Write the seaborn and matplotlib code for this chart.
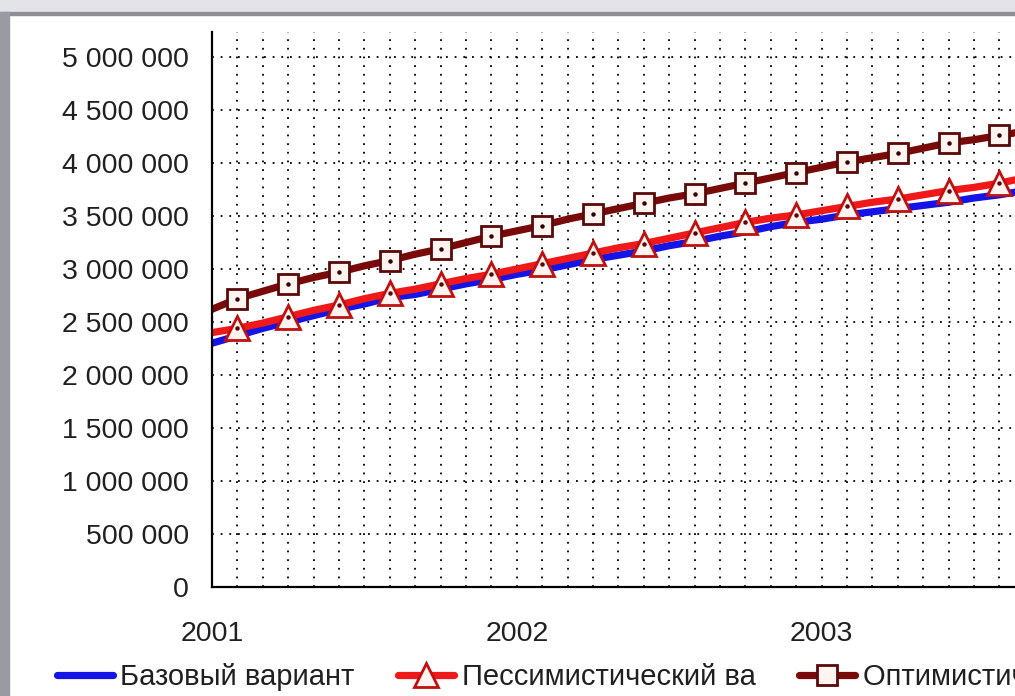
import seaborn as sns
import pandas as pd
import matplotlib.pyplot as plt
from matplotlib.ticker import FixedLocator, FuncFormatter, MultipleLocator
from matplotlib.patches import Rectangle

# monthly values, Jan 2001 onwards (millions)
months = list(range(33))
base = [2.30, 2.37, 2.44, 2.50, 2.56, 2.62, 2.67, 2.73, 2.76, 2.81, 2.86, 2.90,
        2.95, 2.99, 3.04, 3.09, 3.13, 3.17, 3.22, 3.26, 3.31, 3.35, 3.40, 3.44,
        3.47, 3.51, 3.54, 3.57, 3.60, 3.63, 3.67, 3.70, 3.74]
pessimistic = [2.40, 2.44, 2.49, 2.55, 2.61, 2.66, 2.72, 2.77, 2.81, 2.86, 2.91, 2.95,
               3.00, 3.05, 3.10, 3.15, 3.20, 3.24, 3.29, 3.34, 3.39, 3.44, 3.48, 3.51,
               3.55, 3.59, 3.63, 3.66, 3.70, 3.74, 3.77, 3.81, 3.86]
optimistic = [2.62, 2.72, 2.79, 2.86, 2.92, 2.97, 3.03, 3.08, 3.14, 3.19, 3.25, 3.31,
              3.36, 3.41, 3.47, 3.52, 3.57, 3.62, 3.67, 3.71, 3.76, 3.81, 3.86, 3.91,
              3.96, 4.01, 4.05, 4.09, 4.14, 4.19, 4.22, 4.26, 4.30]
year_ticks = [0, 12, 24, 36]
year_labels = ["2001", "2002", "2003", "2004"]
series_names = ["Базовый вариант", "Пессимистический ва", "Оптимистический вариант"]

df = pd.DataFrame({"month": months,
                   "base": [v * 1e6 for v in base],
                   "pess": [v * 1e6 for v in pessimistic],
                   "opt": [v * 1e6 for v in optimistic]})

sns.set_style("white")
plt.rcParams["font.family"] = ["Liberation Sans", "DejaVu Sans"]

W, H = 1015, 696
fig = plt.figure(figsize=(W / 100, H / 100), dpi=100)
ax = fig.add_axes([212 / W, 1 - 587 / H, (W - 212) / W, (587 - 32) / H])

# window frame bits from the screenshot
fig.patches.append(Rectangle((0, 1 - 12 / H), 1, 12 / H, transform=fig.transFigure,
                             color="#e4e4e8", zorder=0))
fig.patches.append(Rectangle((0, 1 - 15 / H), 1, 3 / H, transform=fig.transFigure,
                             color="#8e8e94", zorder=0))
fig.patches.append(Rectangle((0, 0), 9 / W, 1 - 12 / H, transform=fig.transFigure,
                             color="#9a9aa2", zorder=0))

lw = 5.2
sns.lineplot(data=df, x="month", y="base", ax=ax, color="#1414e6", lw=lw,
             label=series_names[0], zorder=3)
sns.lineplot(data=df, x="month", y="pess", ax=ax, color="#f01818", lw=lw,
             marker="^", markevery=(1, 2), ms=17, mfc="#fff4f0", mec="#c01010",
             mew=2, label=series_names[1], zorder=4)
sns.lineplot(data=df, x="month", y="opt", ax=ax, color="#7a0a0a", lw=lw,
             marker="s", markevery=(1, 2), ms=14, mfc="#fff4f0", mec="#5a0808",
             mew=2, label=series_names[2], zorder=5)
# centre dots inside the markers
ax.plot(df["month"], df["pess"], ls="none", marker="o", ms=2.2, color="#600000",
        markevery=(1, 2), zorder=6)
ax.plot(df["month"], df["opt"], ls="none", marker="o", ms=2.2, color="#300000",
        markevery=(1, 2), zorder=6)

ax.set_xlim(0, (W - 212) / 25.4)
ax.set_ylim(0, 5.236e6)
ax.xaxis.set_major_locator(FixedLocator(year_ticks))
ax.set_xticklabels(year_labels)
ax.xaxis.set_minor_locator(MultipleLocator(1))
ax.yaxis.set_major_locator(MultipleLocator(500000))
ax.yaxis.set_major_formatter(FuncFormatter(lambda v, p: f"{int(v):,}".replace(",", " ")))

dots = (0, (1, 3.8))
ax.grid(False)
ax.grid(axis="y", which="major", color="black", lw=1.3, ls=dots)
ax.grid(axis="x", which="both", color="black", lw=1.3, ls=dots)

for s in ["top", "right"]:
    ax.spines[s].set_visible(False)
for s in ["left", "bottom"]:
    ax.spines[s].set_color("black")
    ax.spines[s].set_linewidth(1.6)
    ax.spines[s].set_zorder(7)

ax.tick_params(axis="both", which="major", direction="inout", length=7, width=1.6,
               color="black", labelsize=20.5, labelcolor="#202020")
ax.tick_params(axis="y", pad=13)
ax.tick_params(axis="x", pad=21, labelsize=20.5)
ax.tick_params(axis="x", which="minor", length=0)
ax.set_xlabel("")
ax.set_ylabel("")

ax.legend(loc="center left", bbox_to_anchor=(57 / W, 1 - 677 / H),
          bbox_transform=fig.transFigure, ncol=3, frameon=False, fontsize=21,
          handlelength=1.92, handletextpad=0.25, columnspacing=1.5,
          borderpad=0, borderaxespad=0, labelcolor="#202020")

fig.savefig("out.png", dpi=100)
